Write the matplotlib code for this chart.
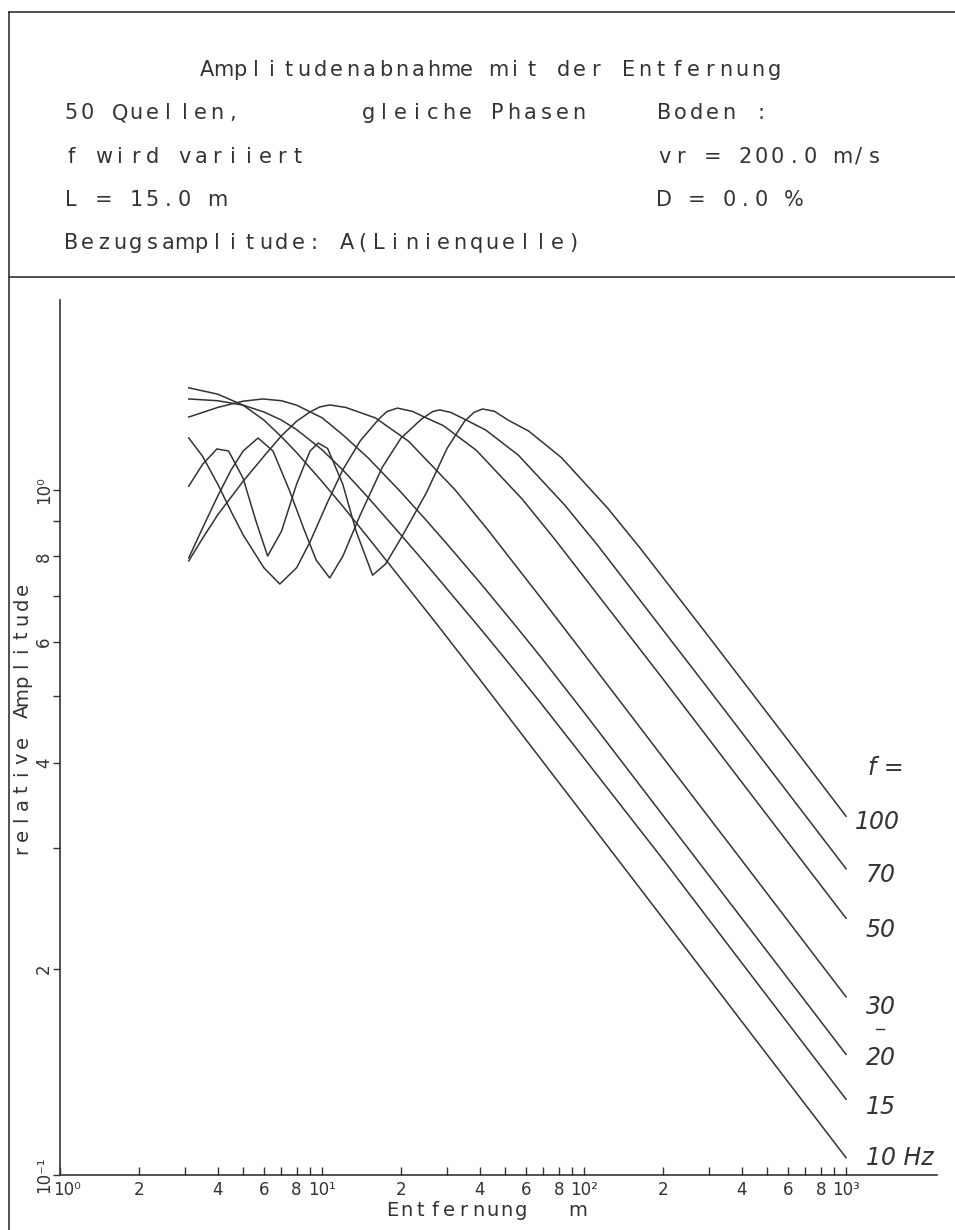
import matplotlib
matplotlib.use("Agg")
import matplotlib.pyplot as plt
from matplotlib.ticker import FixedLocator, NullFormatter
from matplotlib.lines import Line2D

# Werte (Entfernung in m, relative Amplitude)
dist_10 = [3.1, 4, 5, 6, 7, 8, 10, 12, 15, 20, 27, 40, 68, 100, 200, 400, 1000]
amp_10 = [1.41, 1.38, 1.33, 1.265, 1.196, 1.134, 1.029, 0.947, 0.852, 0.742, 0.642, 0.529, 0.406, 0.335, 0.237, 0.1675, 0.106]

dist_15 = [3.1, 4, 5, 6, 7, 8, 10, 12, 15, 20, 25, 30, 40, 50, 68, 100, 200, 400, 1000]
amp_15 = [1.358, 1.35, 1.33, 1.30, 1.265, 1.225, 1.145, 1.07, 0.975, 0.86, 0.779, 0.717, 0.629, 0.567, 0.490, 0.406, 0.289, 0.204, 0.129]

dist_20 = [3.1, 4, 5, 5.95, 7, 8, 10, 12, 15, 20, 25, 30, 40, 54, 68, 100, 200, 400, 1000]
amp_20 = [1.278, 1.32, 1.348, 1.358, 1.35, 1.33, 1.275, 1.204, 1.114, 0.993, 0.903, 0.834, 0.733, 0.638, 0.572, 0.4735, 0.335, 0.237, 0.150]

dist_30 = [3.1, 3.5, 4, 5, 6, 7, 8, 9, 9.8, 10.7, 12.3, 13.4, 16, 21.4, 32.1, 42.8, 68, 100, 200, 400, 1000]
amp_30 = [0.788, 0.85, 0.92, 1.03, 1.12, 1.20, 1.26, 1.30, 1.322, 1.331, 1.32, 1.305, 1.274, 1.178, 1.002, 0.876, 0.698, 0.576, 0.407, 0.288, 0.182]

dist_50 = [3.1, 3.5, 4, 4.5, 5, 6, 6.9, 8, 9, 10.5, 12, 14, 16.5, 17.7, 19.4, 22.2, 24.25, 29.1, 38.8, 58.2, 77.6, 200, 400, 1000]
amp_50 = [1.191, 1.12, 1.02, 0.93, 0.86, 0.77, 0.729, 0.77, 0.84, 0.96, 1.07, 1.18, 1.27, 1.302, 1.317, 1.302, 1.281, 1.241, 1.143, 0.969, 0.846, 0.530, 0.3745, 0.237]

dist_70 = [3.1, 3.5, 4, 4.5, 5, 5.7, 6.5, 7.5, 8.5, 9.5, 10.7, 12, 14, 17, 20, 24, 26.5, 28.1, 31, 35.1, 42.2, 56.2, 84.3, 112, 300, 1000]
amp_70 = [0.796, 0.88, 0.98, 1.07, 1.14, 1.191, 1.14, 1.00, 0.88, 0.79, 0.744, 0.80, 0.92, 1.08, 1.19, 1.27, 1.302, 1.309, 1.298, 1.268, 1.223, 1.124, 0.951, 0.833, 0.511, 0.280]

dist_100 = [3.1, 3.5, 3.97, 4.4, 5.0, 5.6, 6.2, 7.0, 8.0, 9.0, 9.67, 10.5, 12, 13.5, 15.6, 17.5, 20, 25, 30, 35, 38, 41, 45.5, 51.3, 61.5, 82, 123, 164, 300, 600, 1000]
amp_100 = [1.013, 1.09, 1.148, 1.14, 1.04, 0.90, 0.801, 0.87, 1.02, 1.14, 1.171, 1.15, 1.02, 0.87, 0.751, 0.78, 0.85, 0.99, 1.15, 1.26, 1.298, 1.313, 1.303, 1.265, 1.219, 1.115, 0.941, 0.822, 0.610, 0.4315, 0.334]

kurven = [(dist_10, amp_10), (dist_15, amp_15), (dist_20, amp_20), (dist_30, amp_30),
          (dist_50, amp_50), (dist_70, amp_70), (dist_100, amp_100)]

# Beschriftung rechts (Text, Position in Pixel)
freq_labels = ["f =", "100", "70", "50", "30", "20", "15", "10 Hz"]
freq_label_y = [768, 822, 875, 930, 1007, 1058, 1107, 1158]
freq_label_x = [868, 855, 866, 866, 866, 866, 866, 866]

x_ticks_major = [1, 10, 100, 1000]
x_major_labels = ["10⁰", "10¹", "10²", "10³"]
y_ticks = [0.1, 0.2, 0.4, 0.6, 0.8, 1.0]
y_labels = ["10⁻¹", "2", "4", "6", "8", "10⁰"]

W, H = 955, 1230
ink = "#333333"
fig = plt.figure(figsize=(W / 100, H / 100), dpi=100)


def fx(px):
    return px / W


def fy(py):
    return 1 - py / H


def plotter_text(x, y, s, pitch=16.2, size=15, rot=0):
    # Plotterschrift: feste Zeichenbreite
    for i, ch in enumerate(s):
        if ch == " ":
            continue
        if rot == 0:
            fig.text(fx(x + (i + 0.5) * pitch), fy(y), ch, ha="center", va="center",
                     fontsize=size, color=ink)
        else:
            fig.text(fx(x), fy(y - (i + 0.5) * pitch), ch, ha="center", va="center",
                     fontsize=size, color=ink, rotation=90)


# Rahmen
fig.add_artist(Line2D([fx(9), fx(9)], [fy(12), fy(1230)], color=ink, lw=1.2))
fig.add_artist(Line2D([fx(9), fx(955)], [fy(12), fy(12)], color=ink, lw=1.2))
fig.add_artist(Line2D([fx(9), fx(955)], [fy(277), fy(277)], color=ink, lw=1.2))

# Kopf
plotter_text(199, 70, "Amplitudenabnahme mit der Entfernung")
plotter_text(63, 113, "50 Quellen,")
plotter_text(360, 113, "gleiche Phasen")
plotter_text(656, 113, "Boden :")
plotter_text(63, 157, "f wird variiert")
plotter_text(656, 157, "vr = 200.0 m/s")
plotter_text(63, 200, "L = 15.0 m")
plotter_text(656, 200, "D = 0.0 %")
plotter_text(63, 243, "Bezugsamplitude: A(Linienquelle)")

ax = fig.add_axes([fx(60), fy(1175), fx(937) - fx(60), fy(300) - fy(1175)])
ax.set_xscale("log")
ax.set_yscale("log")
ax.set_xlim(1, 2224)
ax.set_ylim(0.1, 1.894)
ax.patch.set_alpha(0)

for d, a in kurven:
    ax.plot(d, a, color=ink, lw=1.1)

for s in ["top", "right"]:
    ax.spines[s].set_visible(False)
for s in ["left", "bottom"]:
    ax.spines[s].set_color(ink)
    ax.spines[s].set_linewidth(1.2)

x_minor = [m * 10 ** e for e in range(0, 3) for m in range(2, 10)]
ax.xaxis.set_major_locator(FixedLocator(x_ticks_major))
ax.xaxis.set_minor_locator(FixedLocator(x_minor))
ax.xaxis.set_major_formatter(NullFormatter())
ax.xaxis.set_minor_formatter(NullFormatter())
ax.tick_params(axis="x", which="both", direction="in", length=6, width=1, color=ink)

y_minor = [0.3, 0.5, 0.7, 0.9]
ax.yaxis.set_major_locator(FixedLocator(y_ticks))
ax.yaxis.set_minor_locator(FixedLocator(y_minor))
ax.yaxis.set_major_formatter(NullFormatter())
ax.yaxis.set_minor_formatter(NullFormatter())
ax.tick_params(axis="y", which="both", direction="out", length=5, width=1, color=ink)

# Achsenbeschriftungen
for t, lab in zip(x_ticks_major, x_major_labels):
    ax.annotate(lab, (t, 0.1), xytext=(-7 if t == 1 else 0, -15), textcoords="offset pixels",
                ha="left" if t == 1 else "center", va="center", fontsize=12, color=ink)
for m in range(3):
    for k in [2, 4, 6, 8]:
        t = k * 10 ** m
        ax.annotate(str(k), (t, 0.1), xytext=(0, -15), textcoords="offset pixels",
                    ha="center", va="center", fontsize=12, color=ink)
for t, lab in zip(y_ticks, y_labels):
    ax.annotate(lab, (1, t), xytext=(-16, 0), textcoords="offset pixels",
                ha="center", va="center", fontsize=12, color=ink, rotation=90)

plotter_text(385, 1211, "Entfernung   m", pitch=14.3, size=14)
plotter_text(22, 858, "relative Amplitude", pitch=15.4, size=14, rot=90)

for lab, yy, xx in zip(freq_labels, freq_label_y, freq_label_x):
    fig.text(fx(xx), fy(yy), lab, ha="left", va="center", fontsize=17,
             style="italic", color=ink)
fig.add_artist(Line2D([fx(876), fx(884)], [fy(1029), fy(1029)], color=ink, lw=1))

fig.savefig("out.png", dpi=100)
